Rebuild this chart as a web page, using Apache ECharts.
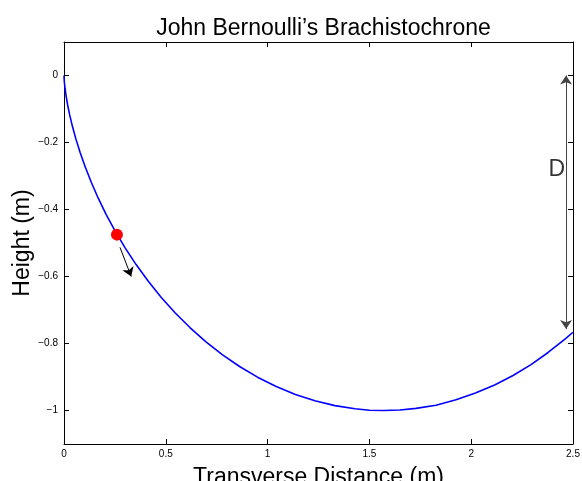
<!DOCTYPE html>
<html><head><meta charset="utf-8">
<script src="https://cdn.jsdelivr.net/npm/echarts@6/dist/echarts.min.js"></script>
<style>html,body{margin:0;padding:0;background:#fff}#c{width:582px;height:481px}</style>
</head><body><div id="c"></div>
<script>
// Curve points (x in m, height in m)
const curveX = [0, 0.0001, 0.0007, 0.0022, 0.0053, 0.0103, 0.0177, 0.0279, 0.0413, 0.0583, 0.0793, 0.1044, 0.134, 0.1682, 0.2073, 0.2513, 0.3002, 0.3542, 0.4131, 0.4769, 0.5454, 0.6185, 0.6958, 0.7772, 0.8623, 0.9505, 1.0423, 1.1366, 1.2325, 1.3305, 1.4294, 1.5, 1.5708, 1.65, 1.7289, 1.8273, 1.9254, 2.0209, 2.1149, 2.2055, 2.2939, 2.3776, 2.4591, 2.5];
const curveY = [0, -0.0025, -0.01, -0.0223, -0.0395, -0.0612, -0.0873, -0.1176, -0.1517, -0.1892, -0.2299, -0.2732, -0.3188, -0.3663, -0.415, -0.4646, -0.5146, -0.5644, -0.6136, -0.6617, -0.7081, -0.7524, -0.7943, -0.8332, -0.8687, -0.9005, -0.9285, -0.9521, -0.9711, -0.9855, -0.995, -0.9994, -1, -0.9986, -0.9937, -0.9844, -0.9682, -0.9479, -0.924, -0.8955, -0.863, -0.8268, -0.7874, -0.7664];
const ballPoint = [0.26, -0.475];
const smallArrow = [[0.275, -0.513], [0.33, -0.6]];
const dArrow = [[2.466, 0.0], [2.466, -0.757]];
const dLabel = [2.42, -0.28];
const xTicks = [0, 0.5, 1, 1.5, 2, 2.5];
const yTicks = [-1, -0.8, -0.6, -0.4, -0.2, 0];

const font = 'Liberation Sans, Arial, Helvetica, sans-serif';
const chart = echarts.init(document.getElementById('c'), null, {renderer: 'canvas'});
const fmt = v => String(+v.toFixed(2)).replace('-', '\u2212');
const line = {onZero: false, lineStyle: {color: '#000', width: 1}};
chart.setOption({
  animation: false,
  backgroundColor: '#fff',
  title: {
    text: 'John Bernoulli\u2019s Brachistochrone',
    left: 318.5, textAlign: 'center', top: 12,
    textStyle: {fontFamily: font, fontSize: 23, fontWeight: 'normal', color: '#000'}
  },
  grid: {left: 64, right: 9, top: 42, bottom: 37, containLabel: false, outerBoundsMode: 'none'},
  xAxis: [{
    type: 'value', min: 0, max: 2.5, interval: 0.5,
    name: 'Transverse Distance (m)', nameLocation: 'middle', nameGap: 22, nameMoveOverlap: false,
    nameTextStyle: {fontFamily: font, fontSize: 23, color: '#000', verticalAlign: 'top'},
    axisLine: line,
    axisTick: {inside: true, length: 5, lineStyle: {color: '#000'}},
    axisLabel: {fontFamily: font, fontSize: 10, color: '#000', margin: 5, formatter: fmt},
    splitLine: {show: false}
  }, {
    type: 'value', min: 0, max: 2.5, interval: 0.5, position: 'top',
    axisLine: line,
    axisTick: {inside: true, length: 5, lineStyle: {color: '#000'}},
    axisLabel: {show: false}, splitLine: {show: false}
  }],
  yAxis: [{
    type: 'value', min: -1.1, max: 0.1,
    name: 'Height (m)', nameLocation: 'middle', nameGap: 41, nameRotate: 90, nameMoveOverlap: false,
    nameTextStyle: {fontFamily: font, fontSize: 23, color: '#000', verticalAlign: 'middle'},
    axisLine: line,
    axisTick: {inside: true, length: 5, lineStyle: {color: '#000'}, customValues: yTicks},
    axisLabel: {fontFamily: font, fontSize: 10, color: '#000', margin: 6, formatter: fmt, customValues: yTicks},
    splitLine: {show: false}
  }, {
    type: 'value', min: -1.1, max: 0.1, position: 'right',
    axisLine: line,
    axisTick: {inside: true, length: 5, lineStyle: {color: '#000'}, customValues: yTicks},
    axisLabel: {show: false}, splitLine: {show: false}
  }],
  series: [{
    type: 'line', data: curveX.map((x, i) => [x, curveY[i]]),
    smooth: false, showSymbol: false, sampling: null,
    lineStyle: {color: '#0000ff', width: 1.6}, z: 2
  }, {
    type: 'scatter', data: [ballPoint], symbolSize: 12,
    itemStyle: {color: '#ff0000', opacity: 1}, z: 5
  }, {
    type: 'lines', coordinateSystem: 'cartesian2d',
    data: [{coords: smallArrow}],
    symbol: ['none', 'arrow'], symbolSize: 9,
    lineStyle: {color: '#000', width: 1, opacity: 1}, z: 4
  }, {
    type: 'lines', coordinateSystem: 'cartesian2d',
    data: [{coords: dArrow}],
    symbol: ['arrow', 'arrow'], symbolSize: 9,
    lineStyle: {color: '#444', width: 1, opacity: 1}, z: 4
  }, {
    type: 'scatter', data: [dLabel], symbolSize: 0,
    label: {show: true, formatter: 'D', position: 'inside', fontFamily: font, fontSize: 23, color: '#000'},
    z: 4
  }]
});
</script></body></html>
